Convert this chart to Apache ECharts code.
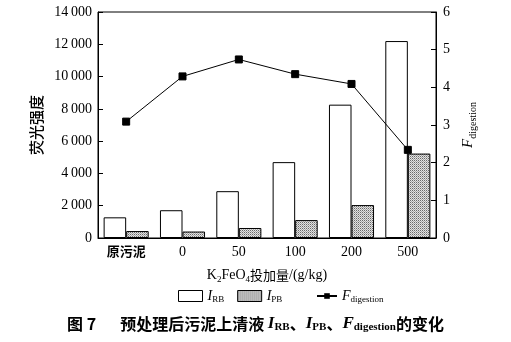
<!DOCTYPE html>
<html><head><meta charset="utf-8">
<script src="https://cdn.jsdelivr.net/npm/echarts@6/dist/echarts.min.js"></script>
<style>html,body{margin:0;padding:0;background:#fff}#c{width:511px;height:342px}</style>
</head><body><div id="c"></div>
<script>
var categories = ['原污泥', '0', '50', '100', '200', '500'];
var iRB = [1280, 1720, 2900, 4700, 8260, 12200];
var iPB = [430, 400, 620, 1110, 2040, 5230];
var fDigestion = [3.09, 4.29, 4.74, 4.35, 4.09, 2.34];
var leftTicks = [0, 2000, 4000, 6000, 8000, 10000, 12000, 14000];
var rightTicks = [0, 1, 2, 3, 4, 5, 6];

var serif = '"Liberation Serif", "Times New Roman", serif';
var cjk = '"Noto Sans CJK SC", sans-serif';

// dotted pattern for I_PB
var pc = document.createElement('canvas');
pc.width = 2; pc.height = 2;
var px = pc.getContext('2d');
px.fillStyle = '#e2e2e2'; px.fillRect(0, 0, 2, 2);
px.fillStyle = '#6a6a6a'; px.fillRect(0, 0, 1, 1);
px.fillStyle = '#a8a8a8'; px.fillRect(1, 1, 1, 1);
var patternFill = {image: pc, repeat: 'repeat'};

function fmtThousands(v) {
  var s = String(v);
  if (v >= 1000) s = s.slice(0, s.length - 3) + '\u2009' + s.slice(s.length - 3);
  return s;
}

var legendRich = {
  i: {fontFamily: serif, fontStyle: 'italic', fontSize: 14, color: '#000'},
  s: {fontFamily: serif, fontStyle: 'normal', fontSize: 9, color: '#000', padding: [8, 0, 0, 0]}
};

var chart = echarts.init(document.getElementById('c'), null, {renderer: 'canvas'});
var option = {
  animation: false,
  backgroundColor: '#fff',
  grid: {left: 98, right: 75, top: 12, bottom: 104, show: true, borderColor: '#000', borderWidth: 1, backgroundColor: 'transparent'},
  legend: [{
    left: 173, top: 284, itemWidth: 24, itemHeight: 11, itemGap: 13,
    data: [{name: 'I_RB', icon: 'rect', itemStyle: {color: '#fff', borderColor: '#000', borderWidth: 1}},
           {name: 'I_PB', icon: 'rect', itemStyle: {color: patternFill, borderColor: '#000', borderWidth: 1}}],
    formatter: function (n) { return n === 'I_RB' ? '{i|I}{s|RB}' : '{i|I}{s|PB}'; },
    textStyle: {fontFamily: serif, rich: legendRich}
  }, {
    left: 311, top: 284, itemWidth: 20, itemHeight: 7,
    data: ['F_digestion'],
    formatter: function () { return '{i|F}{s|digestion}'; },
    textStyle: {fontFamily: serif, rich: legendRich}
  }],
  xAxis: {
    type: 'category', data: categories,
    axisLine: {lineStyle: {color: '#000', width: 1}},
    axisTick: {inside: true, length: 5, lineStyle: {color: '#000'}},
    axisLabel: {
      margin: 7, interval: 0,
      formatter: function (v) { return v === '原污泥' ? '{c|' + v + '}' : '{n|' + v + '}'; },
      rich: {
        c: {fontFamily: cjk, fontSize: 13, fontWeight: 'bold', color: '#000'},
        n: {fontFamily: serif, fontSize: 14, color: '#000'}
      }
    },
    name: '{n|K}{s|2}{n|FeO}{s|4}{c|投加量}{n|/(g/kg)}',
    nameLocation: 'middle', nameGap: 29,
    nameTextStyle: {rich: {
      n: {fontFamily: serif, fontSize: 14, color: '#000'},
      s: {fontFamily: serif, fontSize: 9, color: '#000', padding: [8, 0, 0, 0]},
      c: {fontFamily: cjk, fontSize: 13, color: '#000'}
    }}
  },
  yAxis: [{
    type: 'value', min: leftTicks[0], max: leftTicks[leftTicks.length - 1], interval: 2000,
    position: 'left',
    splitLine: {show: false},
    axisLine: {show: true, lineStyle: {color: '#000'}},
    axisTick: {show: true, inside: true, length: 5, lineStyle: {color: '#000'}},
    axisLabel: {fontFamily: serif, fontSize: 14, color: '#000', margin: 6, formatter: fmtThousands},
    name: '荧光强度', nameLocation: 'middle', nameRotate: 90, nameGap: 44,
    nameTextStyle: {fontFamily: cjk, fontSize: 15, fontWeight: 500, color: '#000'}
  }, {
    type: 'value', min: rightTicks[0], max: rightTicks[rightTicks.length - 1], interval: 1,
    position: 'right',
    splitLine: {show: false},
    axisLine: {show: true, lineStyle: {color: '#000'}},
    axisTick: {show: true, inside: true, length: 5, lineStyle: {color: '#000'}},
    axisLabel: {fontFamily: serif, fontSize: 14, color: '#000', margin: 7},
    name: '{i|F}{s|digestion}', nameLocation: 'middle', nameRotate: 90, nameGap: 21,
    nameTextStyle: {rich: {
      i: {fontFamily: serif, fontStyle: 'italic', fontSize: 15, color: '#000'},
      s: {fontFamily: serif, fontSize: 10, color: '#000', padding: [9, 0, 0, 0]}
    }}
  }],
  series: [{
    name: 'I_RB', type: 'bar', data: iRB, barWidth: '40%', barGap: '0%',
    itemStyle: {color: '#fff', borderColor: '#000', borderWidth: 1}
  }, {
    name: 'I_PB', type: 'bar', data: iPB, barWidth: '40%', barGap: '0%',
    itemStyle: {color: patternFill, borderColor: '#000', borderWidth: 1}
  }, {
    name: 'F_digestion', type: 'line', yAxisIndex: 1, data: fDigestion,
    symbol: 'rect', symbolSize: 7, z: 5,
    lineStyle: {color: '#000', width: 1},
    itemStyle: {color: '#000', borderColor: '#000'}
  }],
  graphic: [{
    type: 'text', left: 'center', top: 315,
    style: {
      text: '{b|图 7}{b|\u2003\u2002预处理后污泥上清液 }{i|I}{s|RB}{b|、}{i|I}{s|PB}{b|、}{i|F}{s|digestion}{b|的变化}',
      rich: {
        b: {fontFamily: cjk, fontWeight: 'bold', fontSize: 16, fill: '#000'},
        i: {fontFamily: serif, fontWeight: 'bold', fontStyle: 'italic', fontSize: 17, fill: '#000'},
        s: {fontFamily: serif, fontWeight: 'bold', fontSize: 11, fill: '#000', padding: [8, 0, 0, 0]}
      }
    }
  }]
};
chart.setOption(option);
</script>
</body></html>
